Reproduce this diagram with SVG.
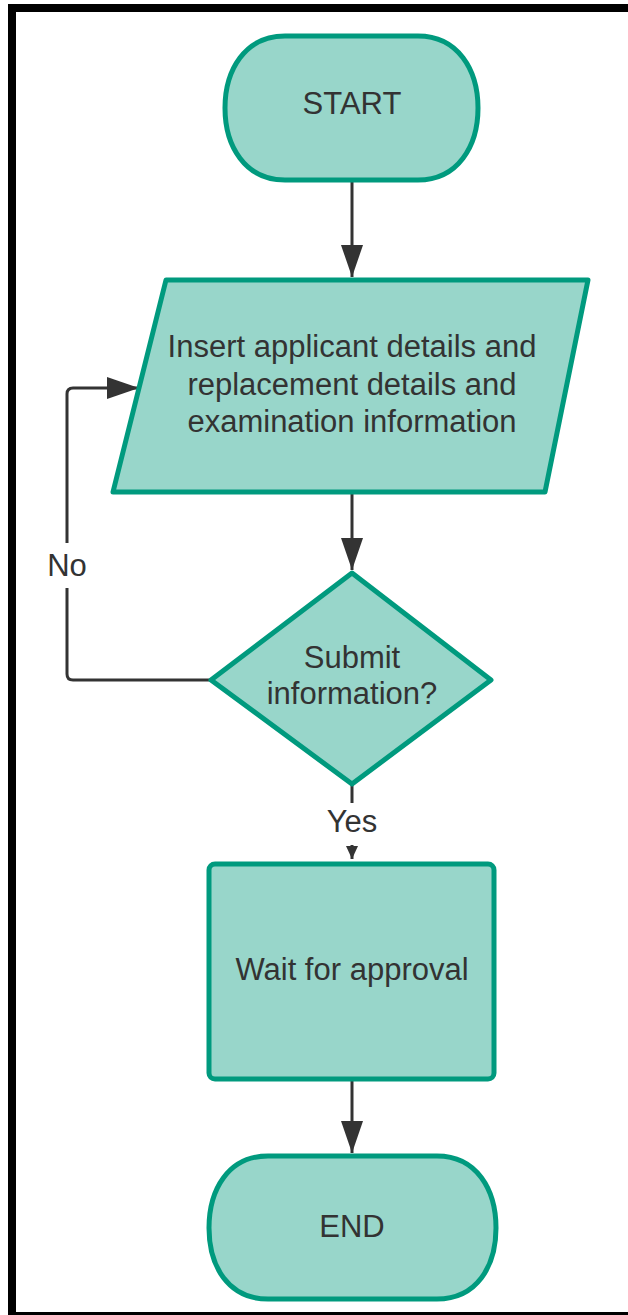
<svg xmlns="http://www.w3.org/2000/svg" width="628" height="1315" viewBox="0 0 628 1315">
  <defs>
    <style>
      .shape { fill: #98D6CA; stroke: #009A7E; stroke-width: 5; stroke-linejoin: round; }
      .lbl { font-family: "Liberation Sans", Arial, sans-serif; font-size: 31px; fill: #333333; text-anchor: middle; }
      .conn { fill: none; stroke: #333333; stroke-width: 3; stroke-linejoin: round; }
    </style>
    <marker id="arrow" markerUnits="userSpaceOnUse" markerWidth="34" markerHeight="22" refX="32" refY="11" orient="auto" viewBox="0 0 34 22">
      <path d="M0,0 L32,11 L0,22 Z" fill="#333333"/>
    </marker>
    <marker id="arrowSmall" markerUnits="userSpaceOnUse" markerWidth="14" markerHeight="12" refX="13" refY="6" orient="auto" viewBox="0 0 14 12">
      <path d="M0,0 L13,6 L0,12 Z" fill="#333333"/>
    </marker>
  </defs>
  <rect width="628" height="1315" fill="#ffffff"/>
  <rect id="frame" x="12" y="8" width="700" height="1308" fill="none" stroke="#000000" stroke-width="8"/>

  <g id="connectors">
    <path class="conn" d="M352,180 V277" marker-end="url(#arrow)"/>
    <path class="conn" d="M352,493 V570" marker-end="url(#arrow)"/>
    <path class="conn" d="M210,680 H73 Q67,680 67,674 V588"/>
    <path class="conn" d="M67,543 V394 Q67,388 73,388 H139" marker-end="url(#arrow)"/>
    <path class="conn" d="M352,785 V803"/>
    <path class="conn" d="M352,845 V859" marker-end="url(#arrowSmall)"/>
    <path class="conn" d="M352,1080 V1153" marker-end="url(#arrow)"/>
    <text class="lbl" x="67" y="576">No</text>
    <text class="lbl" x="352" y="832">Yes</text>
  </g>

  <g id="start">
    <path class="shape" d="M285,36 H418 C458,36 478,70 478,108 C478,146 458,180 418,180 H285 C245,180 225,146 225,108 C225,70 245,36 285,36 Z"/>
    <text class="lbl" x="352" y="114">START</text>
  </g>

  <g id="input">
    <path class="shape" d="M166,280 H588 L545,492 H113 Z"/>
    <text class="lbl" x="352" y="357">Insert applicant details and</text>
    <text class="lbl" x="352" y="395">replacement details and</text>
    <text class="lbl" x="352" y="432">examination information</text>
  </g>

  <g id="decision">
    <path class="shape" d="M352,573 L491,680 L352,784 L211,680 Z"/>
    <text class="lbl" x="352" y="668">Submit</text>
    <text class="lbl" x="352" y="704">information?</text>
  </g>

  <g id="wait">
    <rect class="shape" x="209" y="864" width="285" height="215" rx="6" ry="6"/>
    <text class="lbl" x="352" y="980">Wait for approval</text>
  </g>

  <g id="end">
    <path class="shape" d="M268,1156 H437 C477,1156 496,1190 496,1228 C496,1266 477,1299 437,1299 H268 C228,1299 209,1266 209,1228 C209,1190 228,1156 268,1156 Z"/>
    <text class="lbl" x="352" y="1237">END</text>
  </g>
</svg>
